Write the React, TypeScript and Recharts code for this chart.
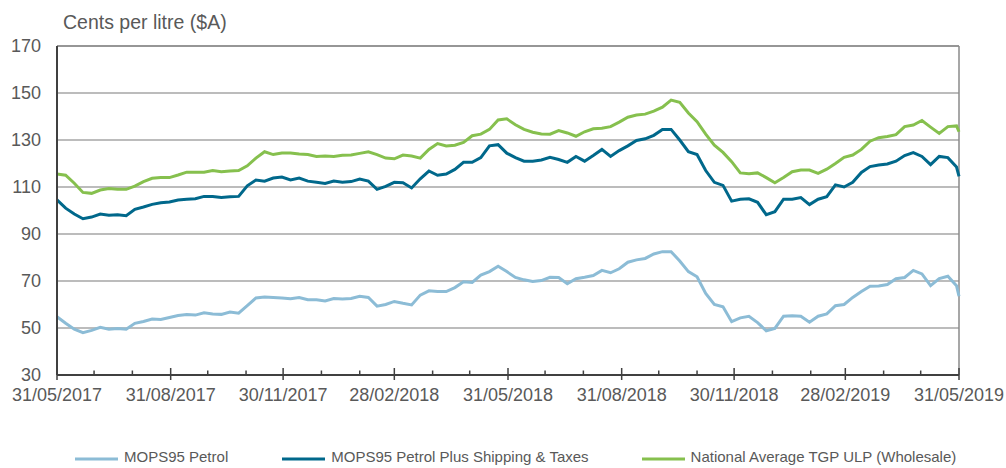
import { LineChart, Line, XAxis, YAxis, CartesianGrid, ReferenceLine, Legend } from "recharts";

const START = Date.UTC(2017, 4, 31);
const END = Date.UTC(2019, 4, 31);
const DAY = 86400000;

const FONT = "'Liberation Sans', Arial, sans-serif";
const TEXT = "#595959";
const AXIS = "#404040";

const C_MOPS = "#8cbcd6";
const C_PLUS = "#00688b";
const C_TGP = "#86c04e";

// weekly readings starting 31/05/2017, last value is 31/05/2019
const mopsPetrol = [
  54.8, 52, 49.5, 48, 49, 50.3, 49.5, 49.8, 49.5, 52,
  52.8, 53.8, 53.6, 54.5, 55.3, 55.7, 55.5, 56.5, 56, 55.8,
  56.8, 56.3, 59.5, 62.8, 63.2, 63, 62.8, 62.5, 63, 62,
  62, 61.5, 62.5, 62.3, 62.6, 63.5, 63, 59.3, 60, 61.3,
  60.5, 59.8, 64, 65.8, 65.5, 65.5, 67.2, 69.7, 69.4, 72.5,
  74, 76.3, 74, 71.5, 70.5, 69.8, 70.2, 71.6, 71.5, 68.8,
  71, 71.6, 72.3, 74.5, 73.5, 75.2, 78, 79, 79.6, 81.5,
  82.5, 82.5, 78.5, 74, 71.8, 64.7, 60, 59, 52.7, 54.3,
  55, 52.3, 48.8, 49.8, 55, 55.2, 55, 52.5, 55, 56,
  59.5, 60, 63, 65.5, 67.8, 67.9, 68.5, 71, 71.5, 74.5,
  73, 68, 71, 72, 68, 63.5,
];

const mopsPlus = [
  104.5, 101, 98.5, 96.5, 97.2, 98.5, 98, 98.2, 97.8, 100.5,
  101.5, 102.6, 103.3, 103.6, 104.5, 104.8, 105, 106, 106, 105.5,
  105.8, 106, 110.5, 113, 112.5, 113.8, 114.2, 113, 113.8, 112.5,
  112, 111.5, 112.5, 112, 112.3, 113.4, 112.5, 109, 110.3, 112,
  111.8, 109.6, 113.5, 116.8, 115, 115.5, 117.5, 120.5, 120.5, 122.5,
  127.5, 128, 124.4, 122.5, 121, 121, 121.5, 122.6, 121.7, 120.5,
  123, 121, 123.4, 126, 123, 125.5, 127.5, 129.8, 130.5, 132,
  134.5, 134.5, 130, 125, 123.8, 117, 112, 110.7, 104, 104.8,
  105, 103.5, 98.2, 99.5, 104.8, 104.8, 105.5, 102.5, 104.8, 105.9,
  110.9, 110, 112, 116.2, 118.7, 119.4, 119.8, 121, 123.4, 124.6,
  123, 119.5, 123, 122.5, 118.5, 114.5,
];

const tgpUlp = [
  115.5, 115, 111.6, 107.7, 107.3, 108.7, 109.4, 109, 109, 110.4,
  112.3, 113.7, 114, 114, 115.1, 116.3, 116.3, 116.3, 117, 116.5,
  116.8, 117, 119, 122.3, 125, 123.8, 124.5, 124.5, 124, 123.8,
  123, 123.2, 123, 123.5, 123.6, 124.3, 125, 123.8, 122.3, 122,
  123.6, 123.2, 122.3, 126, 128.5, 127.5, 127.8, 129, 131.8, 132.5,
  134.5, 138.5, 139, 136.5, 134.5, 133.3, 132.6, 132.5, 134, 133,
  131.6, 133.5, 134.8, 135, 135.7, 137.6, 139.7, 140.6, 141, 142.3,
  144, 147, 146, 141.5, 137.8, 132.5, 127.8, 124.7, 120.8, 116,
  115.6, 116, 114, 111.8, 114, 116.5, 117.2, 117.2, 115.8, 117.6,
  120, 122.6, 123.6, 126, 129.5, 131, 131.5, 132.3, 135.7, 136.4,
  138.3, 135.5, 132.8, 135.7, 136, 133.5,
];

const yTicks = [30, 50, 70, 90, 110, 130, 150, 170];

const seriesNames = [
  "MOPS95 Petrol",
  "MOPS95 Petrol Plus Shipping & Taxes",
  "National Average TGP ULP (Wholesale)",
];

const dates = mopsPetrol.map((_, i) =>
  i === mopsPetrol.length - 1 ? END : START + i * 7 * DAY,
);

const data = dates.map((t, i) => ({
  t,
  mops: mopsPetrol[i],
  plus: mopsPlus[i],
  tgp: tgpUlp[i],
}));

// month ends, labelled every quarter
const monthEnds = Array.from({ length: 25 }, (_, i) => Date.UTC(2017, 5 + i, 0));

const fmtDate = (t: number) => {
  const d = new Date(t);
  const dd = String(d.getUTCDate()).padStart(2, "0");
  const mm = String(d.getUTCMonth() + 1).padStart(2, "0");
  return `${dd}/${mm}/${d.getUTCFullYear()}`;
};

function DateTick({ x, y, payload }: any) {
  const idx = monthEnds.indexOf(payload.value);
  const major = idx % 3 === 0;
  return (
    <g>
      <line
        x1={x}
        x2={x}
        y1={y - (major ? 7 : 4.5)}
        y2={major ? y + 5 : y}
        stroke={AXIS}
        strokeWidth={1.5}
      />
      {major && (
        <text
          x={x}
          y={y + 26}
          textAnchor="middle"
          fontSize={18}
          fontFamily={FONT}
          fill={TEXT}
        >
          {fmtDate(payload.value)}
        </text>
      )}
    </g>
  );
}

const legendItems = [
  { name: seriesNames[0], color: C_MOPS, gap: 0 },
  { name: seriesNames[1], color: C_PLUS, gap: 54 },
  { name: seriesNames[2], color: C_TGP, gap: 53 },
];

function ChartLegend() {
  return (
    <div
      style={{
        display: "flex",
        alignItems: "center",
        paddingLeft: 75,
        height: 20,
        fontFamily: FONT,
        fontSize: 15,
        color: TEXT,
        lineHeight: "20px",
        whiteSpace: "nowrap",
      }}
    >
      {legendItems.map((it) => (
        <div
          key={it.name}
          style={{ display: "flex", alignItems: "center", marginLeft: it.gap }}
        >
          <span
            style={{
              display: "inline-block",
              width: 43,
              height: 3,
              background: it.color,
              marginRight: 6,
              transform: "translateY(1.5px)",
            }}
          />
          <span>{it.name}</span>
        </div>
      ))}
    </div>
  );
}

export default function App() {
  return (
    <div style={{ position: "relative", width: 1006, height: 468, overflow: "hidden" }}>
      <style>{"body{margin:0}"}</style>
      <div
        style={{
          position: "absolute",
          left: 63,
          top: 12,
          fontFamily: FONT,
          fontSize: 19.5,
          lineHeight: "20px",
          color: TEXT,
          zIndex: 1,
        }}
      >
        Cents per litre ($A)
      </div>
      <LineChart
        width={1006}
        height={468}
        data={data}
        margin={{ top: 46, right: 47, left: 0, bottom: 63 }}
      >
        <CartesianGrid vertical={false} stroke="#a6a6a6" strokeWidth={1.5} />
        <ReferenceLine y={170} stroke="#8a8a8a" strokeWidth={1.5} />
        <ReferenceLine x={END} stroke="#8a8a8a" strokeWidth={1.5} />
        <XAxis
          dataKey="t"
          type="number"
          domain={[START, END]}
          ticks={monthEnds}
          interval={0}
          height={30}
          tickSize={0}
          tickMargin={0}
          tickLine={false}
          axisLine={{ stroke: AXIS, strokeWidth: 2 }}
          tick={(props: any) => <DateTick {...props} />}
        />
        <YAxis
          type="number"
          domain={[30, 170]}
          ticks={yTicks}
          interval={0}
          width={57}
          tickSize={0}
          tickMargin={16}
          tickLine={false}
          axisLine={{ stroke: AXIS, strokeWidth: 2 }}
          tick={{ fontSize: 18, fill: TEXT, fontFamily: FONT }}
        />
        <Legend
          layout="horizontal"
          verticalAlign="middle"
          align="center"
          wrapperStyle={{ top: 447, left: 0, width: 1006 }}
          content={() => <ChartLegend />}
        />
        <Line
          type="linear"
          dataKey="mops"
          name={seriesNames[0]}
          stroke={C_MOPS}
          strokeWidth={3}
          dot={false}
          isAnimationActive={false}
        />
        <Line
          type="linear"
          dataKey="plus"
          name={seriesNames[1]}
          stroke={C_PLUS}
          strokeWidth={3}
          dot={false}
          isAnimationActive={false}
        />
        <Line
          type="linear"
          dataKey="tgp"
          name={seriesNames[2]}
          stroke={C_TGP}
          strokeWidth={3}
          dot={false}
          isAnimationActive={false}
        />
      </LineChart>
    </div>
  );
}
